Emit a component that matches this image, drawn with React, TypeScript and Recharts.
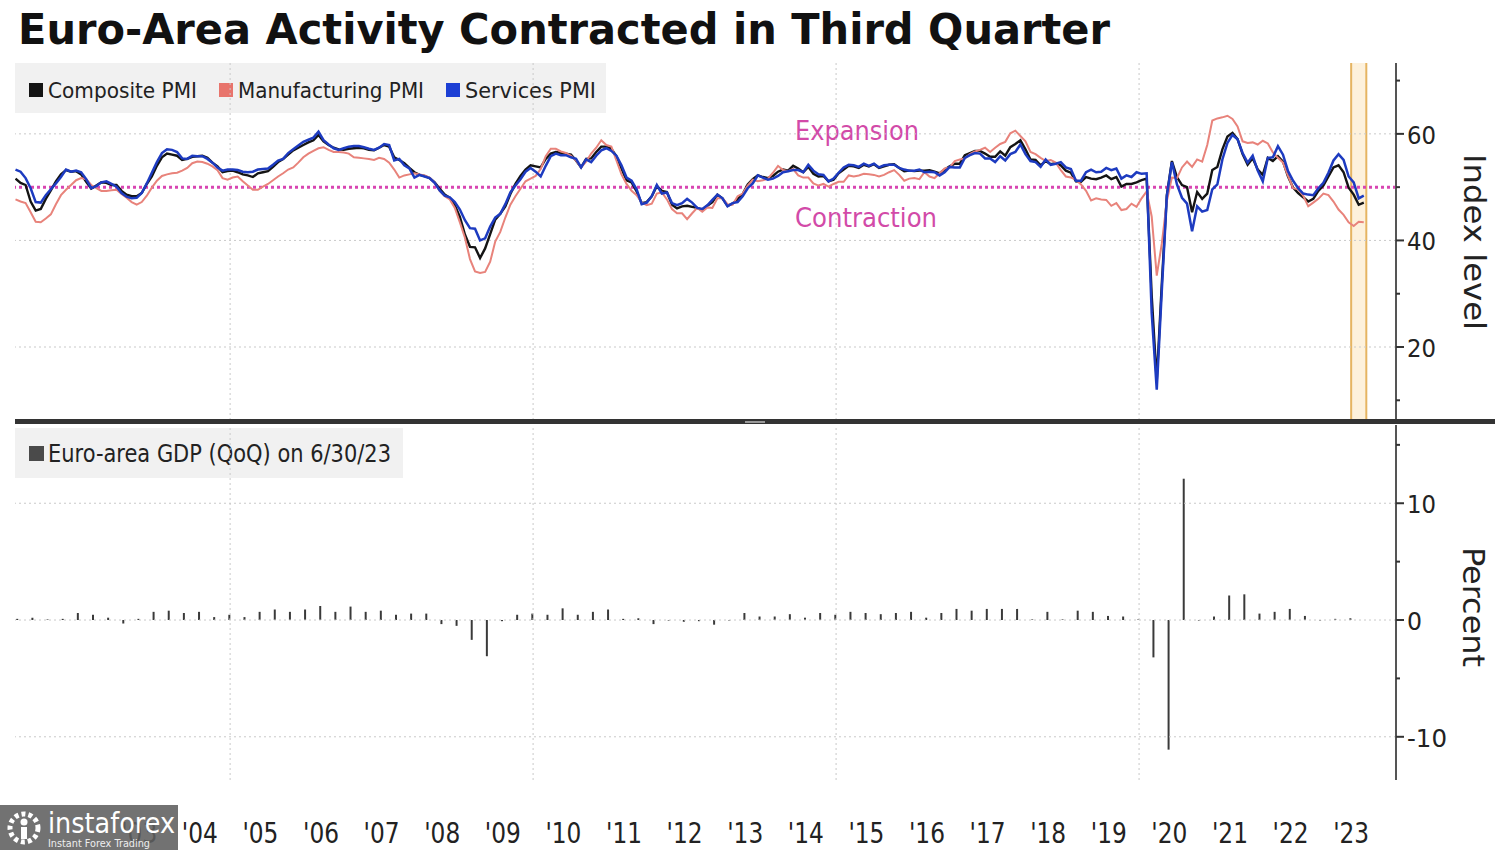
import React from 'react';
import { LineChart, Line, BarChart, Bar, XAxis, YAxis, ReferenceLine, ReferenceArea } from 'recharts';

// monthly PMI readings, first value = June 2001
const FIRST_YEAR = 2001;
const FIRST_MONTH = 6;

const COMPOSITE = [
  51.6, 50.8, 50.4, 47.3, 45.6, 45.9, 47.8,
  49.4, 51.1, 52.4, 53.2, 52.9, 53.0, 52.4, 51.0, 49.7, 50.3, 50.9, 50.8,
  50.4, 50.4, 49.3, 48.6, 48.3, 48.3, 48.9, 50.6, 52.0, 54.0, 55.6, 56.3,
  56.1, 55.9, 55.1, 55.3, 55.7, 55.8, 55.9, 55.5, 54.6, 53.9, 52.8, 53.0,
  53.1, 52.8, 52.4, 52.2, 51.9, 52.6, 52.8, 53.0, 53.8, 54.7, 55.3, 56.1,
  56.9, 57.4, 57.9, 58.4, 58.8, 59.8, 58.6, 57.9, 57.4, 57.1, 57.0, 57.2,
  57.3, 57.4, 57.3, 57.0, 56.9, 57.4, 57.9, 57.6, 55.6, 55.1, 54.5, 53.6,
  52.8, 52.3, 52.1, 51.7, 50.9, 49.7, 48.6, 48.0, 46.6, 44.4, 41.1, 38.8,
  38.7, 36.7, 38.5, 41.2, 43.9, 45.0, 46.4, 48.7, 50.6, 52.1, 53.3, 54.1,
  53.9, 53.7, 55.3, 56.3, 56.6, 56.4, 56.3, 56.1, 55.0, 53.7, 55.3, 55.4,
  56.6, 57.6, 57.6, 57.2, 55.8, 53.5, 51.3, 50.9, 49.2, 47.0, 47.2, 48.3,
  50.2, 49.3, 49.1, 46.7, 46.0, 46.4, 46.5, 46.3, 46.1, 45.7, 46.5, 47.2,
  48.6, 47.9, 46.5, 46.9, 47.7, 48.7, 50.5, 51.5, 52.2, 51.9, 51.7, 52.1,
  52.9, 53.3, 53.1, 54.0, 53.5, 52.8, 53.8, 52.5, 52.0, 52.1, 51.1, 51.4,
  52.6, 53.3, 54.0, 53.9, 53.6, 54.2, 53.9, 54.3, 53.6, 53.9, 54.2, 54.3,
  53.6, 53.0, 53.1, 53.0, 53.1, 53.1, 53.2, 52.9, 52.6, 53.3, 53.9, 54.4,
  54.4, 56.0, 56.4, 56.8, 56.8, 56.3, 55.7, 55.7, 56.7, 55.9, 57.5, 58.1,
  58.8, 57.1, 55.2, 55.1, 54.1, 54.9, 54.3, 54.5, 54.1, 53.1, 52.7, 51.1,
  51.0, 51.9, 51.6, 51.5, 51.8, 52.2, 51.5, 51.9, 50.1, 50.6, 50.6, 50.9,
  51.3, 51.6, 29.7, 13.6, 31.9, 48.5, 54.9, 51.9, 50.4, 50.0, 45.3, 49.1,
  47.8, 48.8, 53.2, 53.8, 57.1, 59.5, 60.2, 59.0, 56.2, 54.2, 55.4, 53.3,
  52.3, 55.5, 54.9, 55.8, 54.8, 52.0, 49.9, 48.9, 48.1, 47.3, 47.8, 49.3,
  50.3, 52.0, 53.7, 54.1, 52.8, 49.9, 48.6, 46.7, 47.1,
];

const MANUFACTURING = [
  47.7, 47.3, 47.0, 45.3, 43.5, 43.4, 44.1,
  44.9, 46.8, 48.5, 49.5, 50.4, 51.3, 51.7, 51.5, 50.4, 49.8, 49.3, 49.3,
  49.4, 49.5, 48.7, 48.0, 47.2, 46.7, 47.2, 48.4, 49.9, 51.2, 52.1, 52.4,
  52.6, 52.7, 53.1, 53.6, 54.5, 54.8, 54.7, 54.4, 53.9, 53.2, 51.7, 51.4,
  51.8, 52.0, 51.1, 50.3, 49.5, 49.5, 50.1, 50.6, 51.3, 52.0, 52.6, 53.3,
  53.7, 54.6, 55.6, 56.3, 56.8, 57.3, 57.5, 57.0, 56.6, 56.6, 56.5, 56.3,
  55.6, 55.5, 55.4, 55.3, 55.1, 55.5, 55.3, 54.6, 53.3, 51.8, 52.2, 52.4,
  52.6, 52.4, 52.2, 51.8, 50.8, 49.3, 48.3, 47.7, 46.1, 43.4, 40.5, 36.5,
  34.2, 33.9, 34.1, 36.0, 39.8, 41.6, 44.3, 46.7, 48.3, 49.7, 51.1, 51.6,
  52.1, 53.4, 55.8, 57.2, 57.2, 56.7, 56.4, 55.9, 55.0, 53.7, 54.8, 56.3,
  57.4, 58.8, 57.9, 57.6, 55.0, 52.4, 50.6, 49.3, 48.5, 47.1, 46.6, 46.9,
  48.8, 49.0, 47.7, 45.9, 45.1, 45.1, 44.0, 45.1, 46.1, 45.4, 46.2, 46.1,
  47.9, 47.9, 46.8, 46.7, 48.3, 48.8, 50.3, 51.4, 51.1, 51.3, 51.6, 52.7,
  54.0, 53.2, 53.0, 53.4, 52.2, 51.8, 51.8, 50.7, 50.3, 50.6, 50.1, 50.6,
  51.0, 51.0, 52.2, 52.0, 52.2, 52.5, 52.4, 52.3, 52.0, 52.3, 52.8, 53.2,
  52.3, 51.2, 51.6, 51.7, 51.5, 52.8, 52.0, 51.7, 52.6, 53.5, 53.7, 54.9,
  55.2, 55.4, 56.2, 56.7, 57.0, 57.4, 56.6, 57.4, 58.1, 58.5, 60.1, 60.6,
  59.6, 58.6, 56.6, 56.2, 55.5, 54.9, 55.1, 54.6, 53.2, 52.0, 51.8, 51.4,
  50.5, 49.3, 47.5, 47.9, 47.7, 47.6, 46.5, 47.0, 45.7, 45.9, 46.9, 46.3,
  47.9, 49.2, 44.5, 33.4, 39.4, 47.4, 51.8, 51.7, 53.7, 54.8, 53.8, 55.2,
  54.8, 57.9, 62.5, 62.9, 63.1, 63.4, 62.8, 61.4, 58.6, 58.3, 58.4, 58.0,
  58.7, 58.2, 56.5, 55.5, 54.6, 52.1, 49.8, 49.6, 48.4, 46.4, 47.1, 47.8,
  48.8, 48.5, 47.3, 45.8, 44.8, 43.4, 42.7, 43.5, 43.4,
];

const SERVICES = [
  53.3, 52.9, 51.7, 49.8, 47.2, 47.1, 48.5,
  49.6, 50.7, 51.9, 53.3, 52.9, 53.1, 52.8, 51.5, 49.8, 50.2, 50.9, 51.1,
  50.6, 50.1, 48.9, 48.2, 47.9, 48.0, 48.9, 50.7, 52.7, 54.7, 56.4, 57.1,
  57.0, 56.6, 55.4, 55.3, 55.9, 55.8, 55.8, 55.3, 54.6, 53.7, 53.1, 53.3,
  53.3, 53.2, 52.9, 52.8, 52.9, 53.3, 53.4, 53.5, 54.2, 55.0, 55.3, 56.4,
  57.1, 57.8, 58.5, 58.9, 59.3, 60.4, 58.8, 58.0, 57.3, 57.0, 57.3, 57.6,
  57.7, 57.7, 57.5, 57.2, 57.0, 57.4, 58.1, 57.9, 55.0, 55.3, 54.1, 53.5,
  51.8, 52.3, 52.0, 51.7, 50.8, 49.4, 48.4, 48.1, 47.2, 45.8, 43.8, 42.3,
  42.2, 40.0, 40.4, 42.6, 44.3, 45.0, 46.8, 49.0, 50.3, 51.5, 52.9, 53.6,
  52.9, 52.0, 54.0, 55.8, 56.3, 56.0, 56.0, 55.6, 55.3, 53.7, 55.2, 54.7,
  55.9, 56.9, 57.3, 56.8, 55.9, 54.1, 51.8, 51.2, 49.6, 46.8, 47.1, 48.3,
  50.4, 48.8, 49.0, 47.0, 46.6, 47.0, 47.8, 47.1, 46.1, 45.9, 46.6, 47.6,
  48.6, 47.9, 46.4, 47.0, 47.2, 48.3, 49.8, 50.7, 52.2, 51.8, 51.4, 51.6,
  52.1, 52.8, 53.0, 53.2, 53.2, 52.8, 54.2, 53.1, 52.4, 52.3, 51.1, 51.6,
  52.7, 53.7, 54.2, 54.1, 53.8, 54.4, 54.0, 54.4, 53.7, 54.1, 54.2, 54.2,
  53.6, 53.3, 53.1, 53.1, 53.3, 52.8, 52.9, 52.8, 52.2, 52.8, 53.8, 53.7,
  53.7, 55.5, 56.0, 56.4, 56.3, 55.4, 55.4, 54.7, 55.8, 55.0, 56.2, 56.6,
  58.0, 56.2, 54.9, 54.7, 53.8, 55.2, 54.2, 54.4, 54.7, 53.7, 53.4, 51.2,
  51.2, 52.8, 53.3, 52.8, 52.9, 53.6, 53.2, 53.5, 51.6, 52.2, 51.9, 52.8,
  52.5, 52.6, 26.4, 12.0, 30.5, 48.3, 54.7, 50.5, 48.0, 46.9, 41.7, 46.4,
  45.4, 45.7, 49.6, 50.5, 55.2, 58.3, 59.8, 59.0, 56.4, 54.6, 55.9, 53.1,
  51.1, 55.5, 55.6, 57.7, 56.1, 53.0, 51.2, 49.8, 48.8, 48.6, 48.5, 49.8,
  50.8, 52.7, 55.0, 56.2, 55.1, 52.0, 50.9, 47.9, 48.4,
];

// quarterly GDP change, first value = Q2 2001
const GDP_FIRST_QUARTER = 2;
const GDP_QOQ = [
  0.1, 0.2, 0.05,
  0.1, 0.6, 0.45, 0.2,
  -0.3, 0.1, 0.7, 0.8,
  0.6, 0.7, 0.25, 0.45,
  0.25, 0.7, 0.9, 0.7,
  0.9, 1.2, 0.7, 1.15,
  0.7, 0.8, 0.45, 0.55,
  0.55, -0.35, -0.5, -1.7,
  -3.1, -0.1, 0.45, 0.55,
  0.45, 1.0, 0.45, 0.7,
  0.9, 0.1, 0.15, -0.35,
  -0.05, -0.15, -0.1, -0.4,
  -0.05, 0.6, 0.3, 0.3,
  0.5, 0.2, 0.6, 0.45,
  0.7, 0.6, 0.5, 0.6,
  0.7, 0.2, 0.6, 0.95,
  0.8, 0.95, 0.95, 0.95,
  0.05, 0.7, 0.05, 0.8,
  0.7, 0.35, 0.3, 0.05,
  -3.2, -11.1, 12.1, -0.05,
  0.3, 2.1, 2.2, 0.55,
  0.7, 0.95, 0.35, -0.05,
  0.1, 0.15,
];

// '02 sits fully under the watermark in the reference, so labels start at '03
const TICK_YEARS = [2003, 2004, 2005, 2006, 2007, 2008, 2009, 2010, 2011, 2012,
  2013, 2014, 2015, 2016, 2017, 2018, 2019, 2020, 2021, 2022, 2023];
const GRID_YEARS = [2005, 2010, 2015, 2020];
const BAND: [number, number] = [2023.5, 2023.75];

const X_DOMAIN: [number, number] = [2001.45, 2024.24];

const pmiData = COMPOSITE.map((c, i) => ({
  t: FIRST_YEAR + (FIRST_MONTH - 1 + i + 0.5) / 12,
  composite: c,
  manufacturing: MANUFACTURING[i],
  services: SERVICES[i],
}));

const gdpData = GDP_QOQ.map((g, i) => ({
  t: FIRST_YEAR + (GDP_FIRST_QUARTER + i) / 4 - 0.02,
  gdp: g,
}));

const FONT = '"DejaVu Sans", Verdana, sans-serif';
const GRID = '#c9c9c9';
const BLACK = '#141414';
const RED = '#e8837b';
const BLUE = '#1d3bc0';
const PINK = '#d24aa8';

const LABEL_WIDTH: Record<number, number> = { 1: 15, 2: 29, 3: 40 };

const RightTick = (props: any) => {
  const { x, y, payload, labelled } = props;
  const v = payload.value;
  const show = labelled.includes(v);
  const txt = String(v);
  return (
    <g>
      <line x1={x} x2={x + (show ? 8 : 4)} y1={y} y2={y} stroke="#333" strokeWidth={2} />
      {show && (
        <text x={x + 11} y={y + 10} fontSize={25} fill="#222" fontFamily={FONT}
          textLength={LABEL_WIDTH[txt.length]} lengthAdjust="spacingAndGlyphs">
          {txt}
        </text>
      )}
    </g>
  );
};

const YearTick = (props: any) => {
  const { x, y, payload } = props;
  const label = "'" + String(Math.floor(payload.value)).slice(2);
  return (
    <text x={x} y={y + 63} textAnchor="middle" fontSize={28} fill="#222" fontFamily={FONT}
      textLength={36} lengthAdjust="spacingAndGlyphs">
      {label}
    </text>
  );
};

const LegendItem = ({ x, color, label, width }: { x: number; color: string; label: string; width: number }) => (
  <g>
    <rect x={x} y={83} width={14} height={14} fill={color} />
    <text x={x + 19} y={98} fontSize={21} fill="#222" fontFamily={FONT} textLength={width} lengthAdjust="spacingAndGlyphs">
      {label}
    </text>
  </g>
);

export default function App() {
  return (
    <div style={{ position: 'absolute', left: 0, top: 0, width: 1500, height: 850, background: '#fff', overflow: 'hidden', fontFamily: FONT }}>
      {/* under-layer: title, legends, axis titles */}
      <svg width={1500} height={850} style={{ position: 'absolute', left: 0, top: 0 }}>
        <text x={18} y={44} fontSize={42} fontWeight="bold" fill="#111" fontFamily={FONT} textLength={1092} lengthAdjust="spacingAndGlyphs">
          Euro-Area Activity Contracted in Third Quarter
        </text>
        <rect x={15} y={63} width={591} height={50} fill="#f1f1f1" />
        <LegendItem x={29} color={BLACK} label="Composite PMI" width={149} />
        <LegendItem x={219} color="#e8746c" label="Manufacturing PMI" width={186} />
        <LegendItem x={446} color="#1c3fd4" label="Services PMI" width={131} />

        <text x={795} y={140} fontSize={27} fill={PINK} fontFamily={FONT} textLength={124} lengthAdjust="spacingAndGlyphs">Expansion</text>
        <text x={795} y={227} fontSize={27} fill={PINK} fontFamily={FONT} textLength={142} lengthAdjust="spacingAndGlyphs">Contraction</text>

        <text transform="translate(1464,242) rotate(90)" textAnchor="middle" fontSize={31} fill="#222" fontFamily={FONT} textLength={176} lengthAdjust="spacingAndGlyphs">Index level</text>
        <text transform="translate(1463,607) rotate(90)" textAnchor="middle" fontSize={31} fill="#222" fontFamily={FONT} textLength={120} lengthAdjust="spacingAndGlyphs">Percent</text>

        <rect x={15} y={428} width={388} height={50} fill="#f1f1f1" />
        <rect x={29} y={446} width={15} height={15} fill="#4a4a4a" />
        <text x={48} y={462} fontSize={24} fill="#222" fontFamily={FONT} textLength={343} lengthAdjust="spacingAndGlyphs">
          Euro-area GDP (QoQ) on 6/30/23
        </text>
      </svg>

      <div style={{ position: 'absolute', left: 0, top: 0 }}>
        <LineChart width={1500} height={430} data={pmiData} margin={{ top: 63, right: 4, bottom: 10, left: 15 }}>
          <XAxis type="number" dataKey="t" domain={X_DOMAIN} allowDataOverflow hide />
          <YAxis orientation="right" type="number" domain={[6.3, 73.3]} allowDataOverflow width={100}
            ticks={[10, 20, 30, 40, 50, 60, 70]} interval={0}
            axisLine={{ stroke: '#555', strokeWidth: 2 }} tickLine={false} tickSize={0} tickMargin={0}
            tick={(p: any) => <RightTick {...p} labelled={[20, 40, 60]} />} />
          <ReferenceArea x1={BAND[0]} x2={BAND[1]} fill="#fdf1dc" fillOpacity={1} stroke="none" />
          {BAND.map((b) => (
            <ReferenceLine key={b} x={b} stroke="#e5b462" strokeWidth={2} />
          ))}
          {[60, 40, 20].map((v) => (
            <ReferenceLine key={v} y={v} stroke={GRID} strokeDasharray="2 3" />
          ))}
          {GRID_YEARS.map((yr) => (
            <ReferenceLine key={yr} x={yr} stroke={GRID} strokeDasharray="2 3" />
          ))}
          <ReferenceLine y={50} stroke="#d845b2" strokeWidth={3} strokeDasharray="3 3" />
          <Line type="linear" dataKey="composite" stroke={BLACK} strokeWidth={2.4} dot={false} isAnimationActive={false} />
          <Line type="linear" dataKey="manufacturing" stroke={RED} strokeWidth={2} dot={false} isAnimationActive={false} />
          <Line type="linear" dataKey="services" stroke={BLUE} strokeWidth={2.5} dot={false} isAnimationActive={false} />
        </LineChart>
      </div>

      <div style={{ position: 'absolute', left: 0, top: 0 }}>
        <BarChart width={1500} height={850} data={gdpData} margin={{ top: 425, right: 4, bottom: 0, left: 15 }}>
          <XAxis type="number" dataKey="t" domain={X_DOMAIN} allowDataOverflow height={70}
            ticks={TICK_YEARS.map((y) => y + 0.5)} interval={0}
            axisLine={false} tickLine={false} tickSize={0} tickMargin={0} tick={(p: any) => <YearTick {...p} />} />
          <YAxis orientation="right" type="number" domain={[-13.7, 16.7]} allowDataOverflow width={100}
            ticks={[-10, -5, 0, 5, 10, 15]} interval={0}
            axisLine={{ stroke: '#555', strokeWidth: 2 }} tickLine={false} tickSize={0} tickMargin={0}
            tick={(p: any) => <RightTick {...p} labelled={[-10, 0, 10]} />} />
          {[10, 0, -10].map((v) => (
            <ReferenceLine key={v} y={v} stroke={GRID} strokeDasharray="2 3" />
          ))}
          {GRID_YEARS.map((yr) => (
            <ReferenceLine key={yr} x={yr} stroke={GRID} strokeDasharray="2 3" />
          ))}
          <Bar dataKey="gdp" fill="#3a3a3a" barSize={2} isAnimationActive={false} />
        </BarChart>
      </div>

      {/* over-layer: panel divider and watermark */}
      <svg width={1500} height={850} style={{ position: 'absolute', left: 0, top: 0, pointerEvents: 'none' }}>
        <rect x={15} y={419} width={1480} height={5} fill="#333" />
        <rect x={745} y={421} width={20} height={2} fill="#999" />
        <rect x={0} y={805} width={178} height={45} fill="rgba(95,95,95,0.88)" />
        <circle cx={24} cy={828} r={14} fill="none" stroke="#fff" strokeWidth={5} strokeDasharray="4 3" />
        <circle cx={24} cy={822} r={3.5} fill="#fff" />
        <rect x={21} y={827} width={6} height={12} fill="#fff" />
        <text x={48} y={833} fontSize={29} fill="#fff" fontFamily={FONT} textLength={127} lengthAdjust="spacingAndGlyphs">instaforex</text>
        <text x={48} y={847} fontSize={10} fill="#eee" fontFamily={FONT} textLength={102} lengthAdjust="spacingAndGlyphs">Instant Forex Trading</text>
      </svg>
    </div>
  );
}
